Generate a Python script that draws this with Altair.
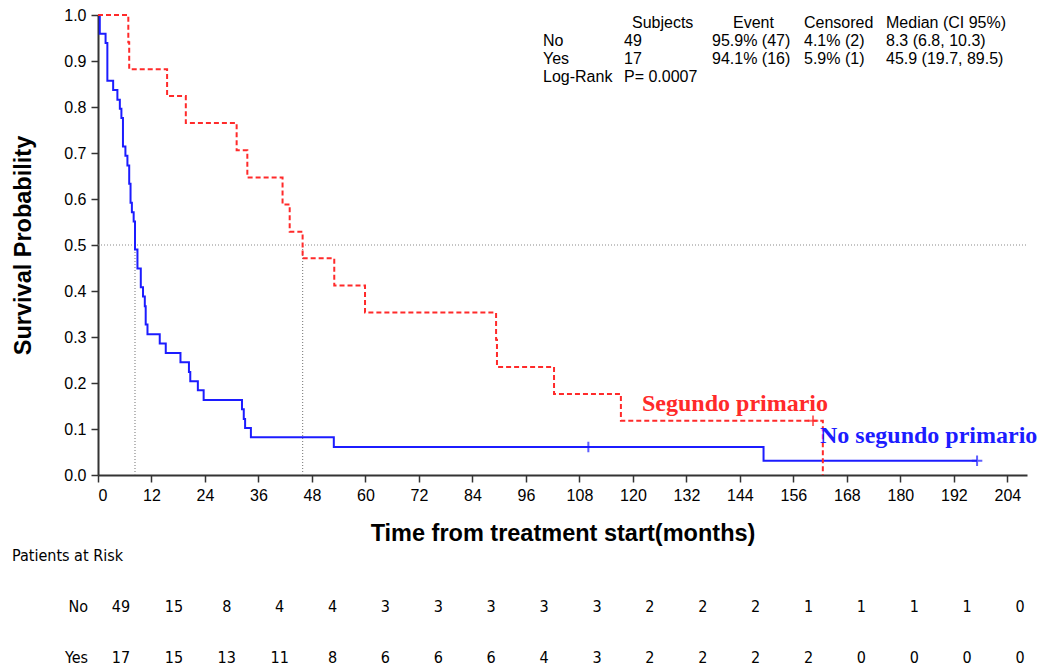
import altair as alt
import pandas as pd

# Kaplan-Meier estimates: step times (months) and survival after each step
no_times = [0, 0.4, 1.7, 2.1, 3.4, 4.35, 4.9, 5.25, 5.6, 6.15, 6.6, 7.0, 7.3, 7.6, 8.0,
            8.3, 8.85, 9.6, 10.1, 10.5, 10.7, 11.1, 13.85, 15.2, 18.5, 20.4, 20.7, 22.4,
            23.7, 32.3, 32.7, 33.0, 34.3, 52.9, 149.3, 197.2]
no_surv = [1.0, 0.959, 0.939, 0.857, 0.837, 0.816, 0.796, 0.776, 0.714, 0.694, 0.673,
           0.633, 0.592, 0.571, 0.551, 0.490, 0.449, 0.408, 0.388, 0.367, 0.327, 0.306,
           0.286, 0.265, 0.245, 0.224, 0.204, 0.184, 0.163, 0.143, 0.122, 0.102, 0.082,
           0.061, 0.031, 0.031]

yes_times = [0, 6.8, 7.0, 15.5, 19.7, 31.1, 33.5, 41.4, 43.0, 45.9, 53.0, 59.9, 89.3,
             89.5, 102.3, 117.3, 162.6]
yes_surv = [1.0, 0.941, 0.882, 0.824, 0.765, 0.706, 0.647, 0.588, 0.529, 0.471, 0.412,
            0.353, 0.294, 0.235, 0.176, 0.118, 0.0]

# Censored observations
no_cens_t = [110.0, 197.2]
no_cens_s = [0.061, 0.031]
yes_cens_t = [160.4]
yes_cens_s = [0.118]

# Medians
medians = [8.3, 45.9]

# Summary table
tbl_header = ["Subjects", "Event", "Censored", "Median (CI 95%)"]
tbl_groups = ["No", "Yes"]
tbl_subjects = ["49", "17"]
tbl_event = ["95.9% (47)", "94.1% (16)"]
tbl_censored = ["4.1% (2)", "5.9% (1)"]
tbl_median = ["8.3 (6.8, 10.3)", "45.9 (19.7, 89.5)"]
logrank = ["Log-Rank", "P= 0.0007"]

# Patients at risk
risk_times = list(range(0, 205, 12))
risk_no = [49, 15, 8, 4, 4, 3, 3, 3, 3, 3, 2, 2, 2, 1, 1, 1, 1, 0]
risk_yes = [17, 15, 13, 11, 8, 6, 6, 6, 4, 3, 2, 2, 2, 2, 0, 0, 0, 0]

BLUE = "#1c1cff"
RED = "#ff2a2a"
SANS = "Liberation Sans"
NARROW = "DejaVu Sans Condensed, Liberation Sans, sans-serif"
SERIF = "Liberation Serif"

W, H = 929, 460
LEFT, TOP = 98, 15
XMAX = 208.4

xs = alt.Scale(domain=[0, XMAX], nice=False, zero=False)
ys = alt.Scale(domain=[0, 1], nice=False)
# the at-risk columns are spread slightly differently from the time axis
risk_scale = alt.Scale(domain=[-5.22, 205.58], nice=False, zero=False)

x_axis = alt.Axis(values=risk_times, title="Time from treatment start(months)",
                  labelFont=SANS, labelFontSize=16, labelColor="black", labelPadding=5,
                  tickSize=7, tickColor="#333", tickWidth=1.5, domainColor="#333",
                  domainWidth=2, titleFont=SANS, titleFontSize=23.5, titleFontWeight="bold",
                  titleColor="black", titlePadding=18, grid=False)
y_axis = alt.Axis(values=[i / 10 for i in range(11)], format=".1f",
                  title="Survival Probability", labelFont=SANS, labelFontSize=16,
                  labelColor="black", labelPadding=5, tickSize=7, tickColor="#333",
                  tickWidth=1.5, domainColor="#333", domainWidth=2, titleFont=SANS,
                  titleFontSize=23.5, titleFontWeight="bold", titleColor="black",
                  titlePadding=28, grid=False)

no_df = pd.DataFrame({"t": no_times, "s": no_surv})
yes_df = pd.DataFrame({"t": yes_times, "s": yes_surv})

no_line = alt.Chart(no_df).mark_line(interpolate="step-after", color=BLUE,
                                     strokeWidth=2).encode(
    x=alt.X("t:Q", scale=xs, axis=x_axis), y=alt.Y("s:Q", scale=ys, axis=y_axis))
yes_line = alt.Chart(yes_df).mark_line(interpolate="step-after", color=RED,
                                       strokeWidth=2, strokeDash=[5, 3]).encode(
    x=alt.X("t:Q", scale=xs, axis=None), y=alt.Y("s:Q", scale=ys))

PLUS = "M-1,0L1,0M0,-1L0,1"
no_cens = alt.Chart(pd.DataFrame({"t": no_cens_t, "s": no_cens_s})).mark_point(
    shape=PLUS, size=110, filled=False, color=BLUE, strokeWidth=2).encode(
    x=alt.X("t:Q", scale=xs, axis=None), y=alt.Y("s:Q", scale=ys))
yes_cens = alt.Chart(pd.DataFrame({"t": yes_cens_t, "s": yes_cens_s})).mark_point(
    shape=PLUS, size=110, filled=False, color=RED, strokeWidth=2).encode(
    x=alt.X("t:Q", scale=xs, axis=None), y=alt.Y("s:Q", scale=ys))

# Median reference lines
half = alt.Chart(pd.DataFrame({"a": [0], "b": [XMAX], "s": [0.5]})).mark_rule(
    color="#8a8a8a", strokeDash=[1, 2], strokeWidth=1.2).encode(
    x=alt.X("a:Q", scale=xs, axis=None), x2="b:Q", y=alt.Y("s:Q", scale=ys))
med_v = alt.Chart(pd.DataFrame({"m": medians, "lo": [0, 0], "hi": [0.5, 0.5]})).mark_rule(
    color="#8a8a8a", strokeDash=[1, 2], strokeWidth=1.2).encode(
    x=alt.X("m:Q", scale=xs, axis=None), y=alt.Y("lo:Q", scale=ys), y2="hi:Q")


def label(text, px, py, size=16, color="black", font=SANS, weight="normal",
          align="left"):
    """Text placed at page pixel (px, py), vertically centred."""
    return alt.Chart(pd.DataFrame({"txt": [text]})).mark_text(
        font=font, fontSize=size, color=color, fontWeight=weight, align=align,
        baseline="middle").encode(
        x=alt.value(px - LEFT), y=alt.value(py - TOP), text="txt:N")


layers = [half, med_v, no_line, yes_line, no_cens, yes_cens]

# Summary table at the top right
col_x = [624, 712, 804, 886]
head_x = [632, 733, 804, 886]
row_y = [23, 41, 59, 77]
for h, hx in zip(tbl_header, head_x):
    layers.append(label(h, hx, row_y[0]))
for i, g in enumerate(tbl_groups):
    y = row_y[i + 1]
    layers.append(label(g, 543, y))
    for val, cx in zip([tbl_subjects[i], tbl_event[i], tbl_censored[i], tbl_median[i]],
                       col_x):
        layers.append(label(val, cx, y))
layers.append(label(logrank[0], 543, row_y[3]))
layers.append(label(logrank[1], 624, row_y[3]))

# Curve annotations
layers.append(label("Segundo primario", 642, 404, size=24, color=RED, font=SERIF,
                    weight="bold"))
layers.append(label("No segundo primario", 820, 436, size=24, color=BLUE, font=SERIF,
                    weight="bold"))

# Patients at risk table
layers.append(label("Patients at Risk", 12, 556, size=16, font=NARROW))
for name, counts, py in [("No", risk_no, 607), ("Yes", risk_yes, 658)]:
    layers.append(label(name, 88, py, size=16, font=NARROW, align="right"))
    rdf = pd.DataFrame({"t": risk_times, "n": counts})
    layers.append(alt.Chart(rdf).mark_text(font=NARROW, fontSize=16, color="black",
                                           baseline="middle", align="center").encode(
        x=alt.X("t:Q", scale=risk_scale, axis=None), y=alt.value(py - TOP),
        text="n:Q"))

chart = alt.layer(*layers).resolve_scale(x="independent").properties(
    width=W, height=H,
    autosize=alt.AutoSizeParams(type="none"),
    padding={"left": LEFT, "top": TOP, "right": 1042 - LEFT - W,
             "bottom": 666 - TOP - H},
    background="white",
).configure_view(stroke=None)

chart.save("out.html", embed_options={"renderer": "svg", "actions": False})
